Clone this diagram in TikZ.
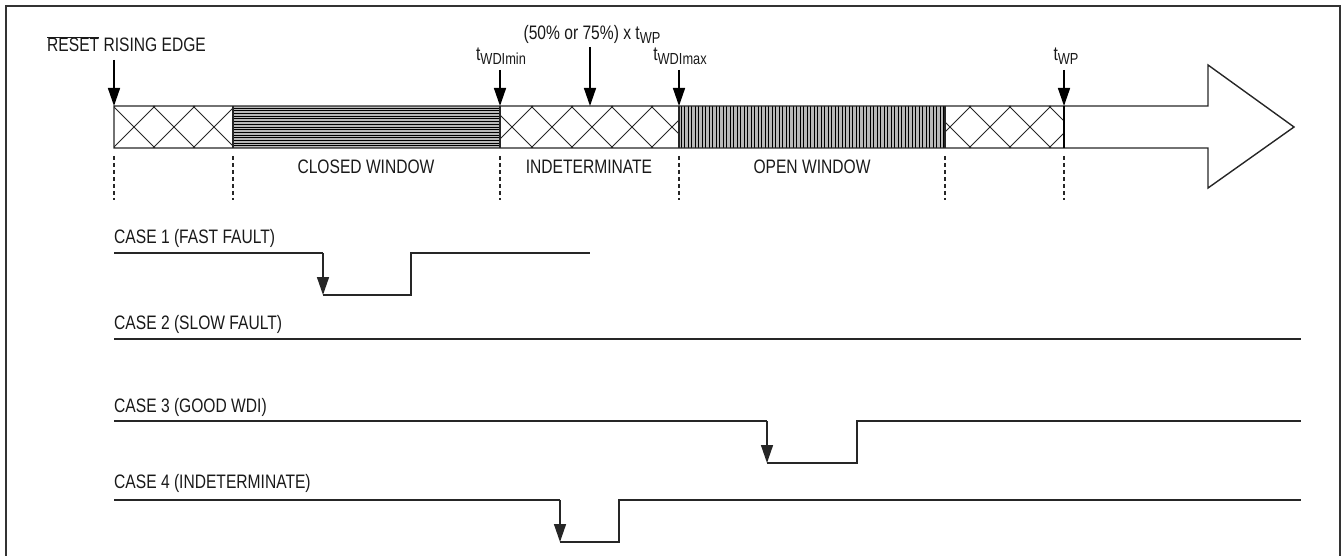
\documentclass[tikz,border=0pt]{standalone}
\usepackage{fontspec}
\setmainfont{Liberation Sans}[FakeStretch=0.8]
\usetikzlibrary{arrows.meta}
\newcommand\tsb[1]{t\raisebox{-0.35ex}{\fontsize{16}{18}\selectfont #1}}
\tikzset{
  lbl/.style={font=\fontsize{19.5}{22}\selectfont, inner sep=0pt, text=black!90},
  frameline/.style={line width=2pt, black!80},
  barline/.style={line width=1.4pt, black!85},
  hatchline/.style={line width=0.8pt, black!85},
  stripeline/.style={line width=0.7pt, black},
  sepline/.style={dashed, dash pattern=on 4pt off 3pt, line width=1.2pt, black!85},
  sig/.style={line width=1.5pt, black!85},
  downarrow/.style={line width=1.5pt, black, -{Triangle[length=18pt,width=12pt]}},
}
\begin{document}
\begin{tikzpicture}[x=1pt,y=-1pt]
\useasboundingbox (0,0) rectangle (1343,556);
% frame
\draw[frameline] (6,560) -- (6,6) -- (1340,6) -- (1340,560);

% ---- bar segments ----
% crosshatch segments
\foreach \xa/\xb/\cx in {114/233/134, 500/679/512, 945/1064/950}{
  \begin{scope}
    \clip (\xa,106) rectangle (\xb,148);
    \foreach \k in {-3,...,6}{
      \pgfmathsetmacro\a{\cx-21+40*\k}
      \draw[hatchline] (\a,148) -- ({\a+42},106);
      \draw[hatchline] (\a,106) -- ({\a+42},148);
    }
  \end{scope}
}
% closed window: horizontal stripes
\fill[gray!55] (233,106) rectangle (500,148);
\foreach \yy in {108.0,110.7,...,147}{
  \draw[stripeline] (233,\yy) -- (500,\yy);
}
% open window: vertical stripes
\fill[gray!55] (679,106) rectangle (945,148);
\foreach \xx in {681,684.5,...,944}{
  \draw[stripeline] (\xx,106) -- (\xx,148);
}
% outline of bar and arrow
\draw[barline, line join=miter] (114,106) -- (1208,106) -- (1208,65) -- (1294,127) -- (1208,188) -- (1208,148) -- (114,148) -- cycle;
\foreach \xx in {233,500,679,945}{
  \draw[barline] (\xx,106) -- (\xx,148);
}
\draw[line width=2pt, black] (1064,106) -- (1064,148);

% ---- dashed separators ----
\foreach \xx/\nm in {114/a,233/b,500/c,679/d,945/e,1064/f}{
  \coordinate (s\nm) at (\xx,156);
  \coordinate (e\nm) at (\xx,200);
  \draw[sepline] (s\nm) -- (e\nm);
}

% ---- window labels ----
\node[lbl, anchor=base] (cw) at (366,174) {CLOSED WINDOW};
\node[lbl, anchor=base] (ind) at (589,174) {INDETERMINATE};
\node[lbl, anchor=base] (ow) at (812,174) {OPEN WINDOW};

% ---- top labels and arrows ----
\node[lbl, anchor=base west] (rst) at (47,52) {$\overline{\hbox{RESET}}$ RISING EDGE};
\coordinate (rsta) at (114,60);
\coordinate (rstb) at (114,106);
\draw[downarrow] (rsta) -- (rstb);

\node[lbl, anchor=base] (wmin) at (501,61) {\tsb{WDImin}};
\coordinate (wmina) at (500,70);
\coordinate (wminb) at (500,106);
\draw[downarrow] (wmina) -- (wminb);

\node[lbl, anchor=base] (pct) at (592,40) {(50\% or 75\%) x \tsb{WP}};
\coordinate (pcta) at (590,47);
\coordinate (pctb) at (590,106);
\draw[downarrow] (pcta) -- (pctb);

\node[lbl, anchor=base] (wmax) at (680,61) {\tsb{WDImax}};
\coordinate (wmaxa) at (679,70);
\coordinate (wmaxb) at (679,106);
\draw[downarrow] (wmaxa) -- (wmaxb);

\node[lbl, anchor=base] (twp) at (1066,61) {\tsb{WP}};
\coordinate (twpa) at (1064,70);
\coordinate (twpb) at (1064,106);
\draw[downarrow] (twpa) -- (twpb);

% ---- cases ----
\node[lbl, anchor=base west] (c1) at (114,243) {CASE 1 (FAST FAULT)};
\coordinate (c1s) at (114,253);
\coordinate (c1d) at (323,253);
\coordinate (c1l) at (323,295);
\coordinate (c1r) at (411,295);
\coordinate (c1u) at (411,253);
\coordinate (c1e) at (590,253);
\draw[sig] (c1s) -- (c1d);
\draw[sig, -{Triangle[length=18pt,width=12pt]}] (c1d) -- (c1l);
\draw[sig] (c1l) -- (c1r) -- (c1u) -- (c1e);

\node[lbl, anchor=base west] (c2) at (114,329) {CASE 2 (SLOW FAULT)};
\coordinate (c2s) at (114,339);
\coordinate (c2e) at (1301,339);
\draw[sig] (c2s) -- (c2e);

\node[lbl, anchor=base west] (c3) at (114,412) {CASE 3 (GOOD WDI)};
\coordinate (c3s) at (114,421);
\coordinate (c3d) at (767,421);
\coordinate (c3l) at (767,463);
\coordinate (c3r) at (857,463);
\coordinate (c3u) at (857,421);
\coordinate (c3e) at (1301,421);
\draw[sig] (c3s) -- (c3d);
\draw[sig, -{Triangle[length=18pt,width=12pt]}] (c3d) -- (c3l);
\draw[sig] (c3l) -- (c3r) -- (c3u) -- (c3e);

\node[lbl, anchor=base west] (c4) at (114,488) {CASE 4 (INDETERMINATE)};
\coordinate (c4s) at (114,500);
\coordinate (c4d) at (560,500);
\coordinate (c4l) at (560,542);
\coordinate (c4r) at (619,542);
\coordinate (c4u) at (619,500);
\coordinate (c4e) at (1301,500);
\draw[sig] (c4s) -- (c4d);
\draw[sig, -{Triangle[length=18pt,width=12pt]}] (c4d) -- (c4l);
\draw[sig] (c4l) -- (c4r) -- (c4u) -- (c4e);
\end{tikzpicture}
\end{document}
